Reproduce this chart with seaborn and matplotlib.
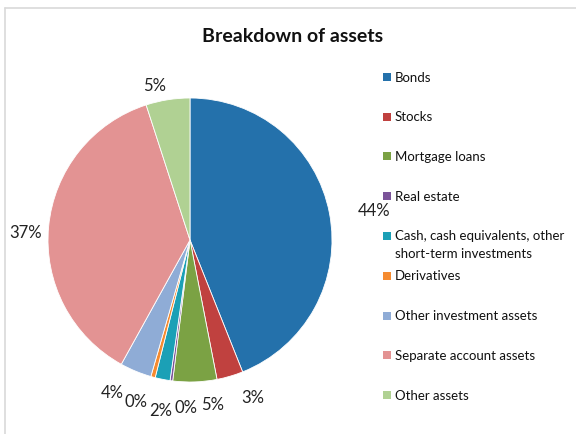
import matplotlib
matplotlib.use("Agg")
import matplotlib.pyplot as plt
from matplotlib.patches import Rectangle
import seaborn as sns
import numpy as np

categories = ["Bonds", "Stocks", "Mortgage loans", "Real estate",
              "Cash, cash equivalents, other\nshort-term investments",
              "Derivatives", "Other investment assets",
              "Separate account assets", "Other assets"]
values = [44.0, 3.0, 5.0, 0.3, 1.7, 0.5, 3.6, 37.0, 5.0]
pct_labels = ["44%", "3%", "5%", "0%", "2%", "0%", "4%", "37%", "5%"]

colors = ["#2471AB", "#C0413F", "#7BA244", "#7B5499", "#1BA0B6",
          "#F58B30", "#8FACD6", "#E39393", "#B0D193"]
# label placement style: angular nudge (deg, clockwise) and radial distance
label_nudge = [1.8, -5.2, -5.8, -6.3, -1.3, 3.2, 4.3, -3.0, -3.8]
label_dist = [1.31, 1.20, 1.17, 1.18, 1.22, 1.20, 1.21, 1.16, 1.11]

sns.set_theme(style="white")
plt.rcParams['font.family'] = ['Lato', 'DejaVu Sans']

W, H = 576, 434
fig = plt.figure(figsize=(W / 100, H / 100), dpi=100)
ax = fig.add_axes([48/W, (H-382)/H, 284/W, 284/H])
wedges, _ = ax.pie(values, colors=colors, startangle=90, counterclock=False,
                   wedgeprops=dict(linewidth=0.6, edgecolor="white"))
ax.set_xlim(-1, 1)
ax.set_ylim(-1, 1)
ax.set_aspect("equal")

for w, lab, nud, d in zip(wedges, pct_labels, label_nudge, label_dist):
    mid = (w.theta1 + w.theta2) / 2.0 - nud
    a = np.deg2rad(mid)
    ax.text(d * np.cos(a), d * np.sin(a), lab, ha="center", va="center",
            fontsize=12, color="#222222")

fig.text(293/W, 1 - 36/H, "Breakdown of assets", ha="center", va="center",
         fontsize=14, fontweight="bold", color="#111111")

# legend (Excel style: fixed slot per entry, swatch aligned with first line)
leg_y0, leg_step = 77, 39.75
for i, (w, cat) in enumerate(zip(wedges, categories)):
    yc = leg_y0 + i * leg_step
    fig.add_artist(Rectangle((383/W, 1 - (yc + 4)/H), 8/W, 8/H,
                             facecolor=w.get_facecolor(), edgecolor="none",
                             transform=fig.transFigure))
    fig.text(395/W, 1 - (yc - 5.5)/H, cat, ha="left", va="top",
             fontsize=9.5, color="#111111", linespacing=1.55)

# chart border (left and top edges visible)
fig.add_artist(plt.Line2D([4.5/W, 4.5/W], [0, 1 - 7.5/H], color="#D9D9D9",
                          linewidth=1.2, transform=fig.transFigure))
fig.add_artist(plt.Line2D([4.5/W, 1], [1 - 7.5/H, 1 - 7.5/H], color="#D9D9D9",
                          linewidth=1.2, transform=fig.transFigure))

fig.savefig("out.png", dpi=100, facecolor="white")
